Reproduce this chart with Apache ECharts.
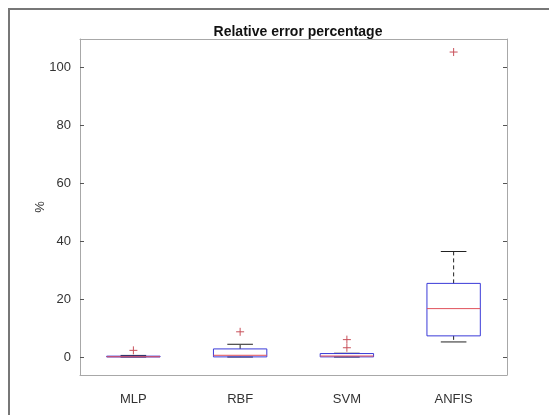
<!DOCTYPE html>
<html>
<head>
<meta charset="utf-8">
<script src="https://cdn.jsdelivr.net/npm/echarts@6/dist/echarts.min.js"></script>
<style>html,body{margin:0;padding:0;background:#fff;}#c{width:549px;height:415px;}</style>
</head>
<body>
<div id="c"></div>
<script>
const categories = ['MLP', 'RBF', 'SVM', 'ANFIS'];
const whiskerLow = [0, 0, 0, 5.2];
const q1 = [0.02, 0.05, 0.05, 7.3];
const median = [0.1, 0.6, 0.35, 16.7];
const q3 = [0.3, 2.8, 1.2, 25.4];
const whiskerHigh = [0.55, 4.4, 1.3, 36.4];
const outliers = [[2.3], [8.7], [3.2, 6.0], [105.2]];
const yTicks = [0, 20, 40, 60, 80, 100];

const FONT = "'Liberation Sans', Arial, Helvetica, sans-serif";
const boxData = categories.map((c, i) => [c, whiskerLow[i], q1[i], median[i], q3[i], whiskerHigh[i]]);
const outlierData = [];
categories.forEach((c, i) => outliers[i].forEach(v => outlierData.push([c, v])));

const chart = echarts.init(document.getElementById('c'), null, {renderer: 'canvas'});
const axisLineStyle = {color: '#a8a8a8', width: 1};
const tickStyle = {color: '#555', width: 1};
chart.setOption({
  animation: false,
  backgroundColor: '#fff',
  title: {
    text: 'Relative error percentage',
    left: 293, top: 20, textAlign: 'center',
    textStyle: {fontFamily: FONT, fontSize: 14, fontWeight: 'bold', color: '#111'}
  },
  grid: {left: 80, right: 42, top: 39, bottom: 40},
  xAxis: [{
    type: 'category', data: categories, position: 'bottom',
    axisLine: {show: true, onZero: false, lineStyle: axisLineStyle},
    axisTick: {inside: true, length: 4, alignWithLabel: true, lineStyle: tickStyle},
    axisLabel: {fontFamily: FONT, fontSize: 13, color: '#333', margin: 18}
  }, {
    type: 'category', data: categories, position: 'top',
    axisLine: {show: true, onZero: false, lineStyle: axisLineStyle},
    axisTick: {inside: true, length: 4, alignWithLabel: true, lineStyle: tickStyle},
    axisLabel: {show: false}
  }],
  yAxis: [{
    type: 'value', min: -6.2, max: 109.7, position: 'left',
    name: '%', nameLocation: 'middle', nameRotate: 90, nameGap: 33, nameMoveOverlap: false,
    nameTextStyle: {fontFamily: FONT, fontSize: 13, color: '#333'},
    splitLine: {show: false},
    axisLine: {show: true, onZero: false, lineStyle: axisLineStyle},
    axisTick: {show: true, inside: true, length: 4, customValues: yTicks, lineStyle: tickStyle},
    axisLabel: {fontFamily: FONT, fontSize: 13, color: '#333', margin: 9, customValues: yTicks}
  }, {
    type: 'value', min: -6.2, max: 109.7, position: 'right',
    splitLine: {show: false},
    axisLine: {show: true, onZero: false, lineStyle: axisLineStyle},
    axisTick: {show: true, inside: true, length: 4, customValues: yTicks, lineStyle: tickStyle},
    axisLabel: {show: false, customValues: yTicks}
  }],
  graphic: [
    {type: 'line', shape: {x1: 8, y1: 9, x2: 549, y2: 9}, style: {stroke: '#777', lineWidth: 2}, silent: true},
    {type: 'line', shape: {x1: 9, y1: 8, x2: 9, y2: 415}, style: {stroke: '#777', lineWidth: 2}, silent: true}
  ],
  series: [{
    type: 'custom',
    data: boxData,
    encode: {x: 0, y: [1, 2, 3, 4, 5]},
    renderItem: function (params, api) {
      const x = api.value(0);
      const band = api.size([1, 0])[0];
      const hw = band * 0.25;
      const cw = band * 0.12;
      const pLo = api.coord([x, api.value(1)]);
      const pQ1 = api.coord([x, api.value(2)]);
      const pMed = api.coord([x, api.value(3)]);
      const pQ3 = api.coord([x, api.value(4)]);
      const pHi = api.coord([x, api.value(5)]);
      const cx = pMed[0];
      const whisk = {stroke: '#222', lineWidth: 1, lineDash: [4, 3]};
      const cap = {stroke: '#222', lineWidth: 1};
      return {
        type: 'group',
        children: [
          {type: 'line', shape: {x1: cx, y1: pQ3[1], x2: cx, y2: pHi[1]}, style: whisk},
          {type: 'line', shape: {x1: cx, y1: pQ1[1], x2: cx, y2: pLo[1]}, style: whisk},
          {type: 'line', shape: {x1: cx - cw, y1: pHi[1], x2: cx + cw, y2: pHi[1]}, style: cap},
          {type: 'line', shape: {x1: cx - cw, y1: pLo[1], x2: cx + cw, y2: pLo[1]}, style: cap},
          {type: 'rect', shape: {x: cx - hw, y: pQ3[1], width: 2 * hw, height: pQ1[1] - pQ3[1]},
            style: {fill: 'none', stroke: '#3a3ad8', lineWidth: 1}},
          {type: 'line', shape: {x1: cx - hw, y1: pMed[1], x2: cx + hw, y2: pMed[1]},
            style: {stroke: '#e0505a', lineWidth: 1}}
        ]
      };
    }
  }, {
    type: 'custom',
    data: outlierData,
    encode: {x: 0, y: 1},
    renderItem: function (params, api) {
      const p = api.coord([api.value(0), api.value(1)]);
      const s = 4;
      const st = {stroke: '#c8505a', lineWidth: 1};
      return {
        type: 'group',
        children: [
          {type: 'line', shape: {x1: p[0] - s, y1: p[1], x2: p[0] + s, y2: p[1]}, style: st},
          {type: 'line', shape: {x1: p[0], y1: p[1] - s, x2: p[0], y2: p[1] + s}, style: st}
        ]
      };
    }
  }]
});
</script>
</body>
</html>
